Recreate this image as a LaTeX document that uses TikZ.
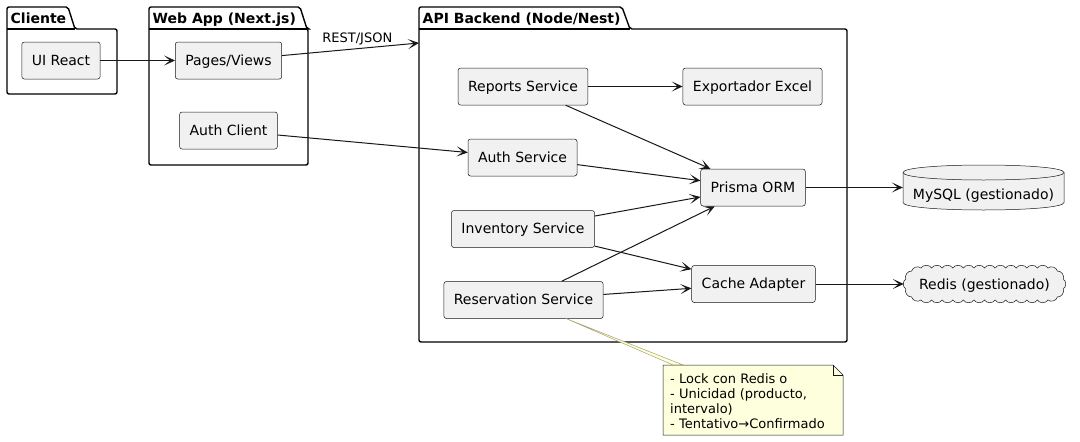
\documentclass[tikz,border=0pt]{standalone}
\usepackage{fontspec}
\setmainfont{DejaVu Sans}
\usetikzlibrary{arrows.meta,calc}
\definecolor{nodefill}{HTML}{F1F1F1}
\definecolor{linec}{HTML}{181818}
\definecolor{notefill}{HTML}{FEFFDD}
\definecolor{notelink}{HTML}{A8A070}
\newcommand\umlpkg[9]{%
  \draw[pkgline] (#1,7) -- (#6,7) -- (#7,29) -- (#2,29) -- (#2,#5) -- (#1,#5) -- cycle;
  \draw[pkgline] (#1,29) -- (#7,29);
  \node[pkgtitle] (#9) at (#1+3.5,23) {#8};
}
\begin{document}
\begin{tikzpicture}[x=1pt,y=-1pt,
  pkgline/.style={draw=black, line width=1.4pt, fill=white, rounded corners=2pt},
  pkgtitle/.style={anchor=base west, inner sep=0pt, font=\fontsize{14}{16}\selectfont\bfseries},
  comp/.style={draw=linec, fill=nodefill, line width=0.5pt, rounded corners=2.5pt,
    font=\fontsize{14}{16}\selectfont, inner xsep=10pt, inner ysep=0pt,
    minimum height=37pt, text height=11pt, text depth=2pt},
  txt/.style={inner sep=0pt, font=\fontsize{14}{16}\selectfont},
  arr/.style={draw=linec, line width=1pt, -{Stealth[length=11pt,width=10pt,inset=6pt]}},
  bump/.style={bend left=60},
  notetxt/.style={anchor=north west, inner sep=0pt, align=left,
    font=\fontsize{13}{15}\selectfont},
  lbl/.style={inner sep=0pt, font=\fontsize{13}{15}\selectfont}
]
\useasboundingbox (0,0) rectangle (1080,442);
\fill[white] (0,0) rectangle (1080,442);

% packages
\umlpkg{7}{117}{7}{29}{94}{68}{75}{Cliente}{tcli}
\umlpkg{149}{308}{7}{29}{165}{300}{307}{Web App (Next.js)}{tweb}
\umlpkg{419}{847}{7}{29}{342}{622}{630}{API Backend (Node/Nest)}{tapi}

% components
\node[comp] (ui) at (61,60.5) {UI React};
\node[comp] (pv) at (228.5,60.5) {Pages/Views};
\node[comp] (ac) at (228.5,130.5) {Auth Client};
\node[comp] (rs) at (523,86.5) {Reports Service};
\node[comp] (ex) at (752.5,86.5) {Exportador Excel};
\node[comp] (as) at (522.5,157.5) {Auth Service};
\node[comp] (pr) at (753,187.5) {Prisma ORM};
\node[comp] (is) at (523,229) {Inventory Service};
\node[comp] (ca) at (753.5,284) {Cache Adapter};
\node[comp] (rv) at (523.5,300) {Reservation Service};

% MySQL cylinder
\draw[draw=linec, fill=nodefill, line width=0.5pt]
  (903,172.5) -- (903,202.5) .. controls (903,212.5) and (1064,212.5) .. (1064,202.5)
  -- (1064,172.5) .. controls (1064,162.5) and (903,162.5) .. (903,172.5) -- cycle;
\draw[draw=linec, line width=0.5pt] (903,172.5) .. controls (903,182.5) and (1064,182.5) .. (1064,172.5);
\node[minimum width=161pt, minimum height=45pt, inner sep=0pt] (my) at (983.5,187.5) {};
\node[txt] (mytxt) at (983.5,196) {MySQL (gestionado)};

% Redis cloud
\draw[draw=linec, fill=nodefill, line width=0.5pt]
  (921,268)
  \foreach \k in {1,...,12} { to[bump] ({921+\k*10.5833},268) }
  \foreach \a in {-54,-18,18,54,90} { to[bump] ({1048+16*cos(\a)},{284+16*sin(\a)}) }
  \foreach \k in {1,...,12} { to[bump] ({1048-\k*10.5833},300) }
  \foreach \a in {126,162,198,234,270} { to[bump] ({921+16*cos(\a)},{284+16*sin(\a)}) }
  -- cycle;
\node[minimum width=161pt, minimum height=36pt, inner sep=0pt] (rd) at (984.5,284) {};
\node[txt] (rdtxt) at (984.5,286) {Redis (gestionado)};

% arrows
\coordinate (apiin) at (419,43);
\draw[arr] (ui) -- (pv);
\draw[arr] (pv) -- node[lbl, above=3pt, pos=0.55] (restlbl) {REST/JSON} (apiin);
\draw[arr] (ac) -- (as);
\draw[arr] (rs) -- (ex);
\draw[arr] (rs) -- (pr);
\draw[arr] (as) -- (pr);
\draw[arr] (is) -- (pr);
\draw[arr] (is) -- (ca);
\draw[arr] (rv) -- (pr);
\draw[arr] (rv) -- (ca);
\draw[arr] (pr) -- (my);
\draw[arr] (ca) -- (rd);

% note
\coordinate (nl) at (566,318.5);
\coordinate (nla) at (673,365);
\coordinate (nlb) at (683,365);
\draw[draw=notelink, fill=notefill, line width=0.5pt] (nl) -- (nla) -- (nlb) -- cycle;
\draw[draw=linec, fill=notefill, line width=0.5pt]
  (663,365) -- (833,365) -- (843,375) -- (843,435) -- (663,435) -- cycle;
\draw[draw=linec, line width=0.5pt] (833,365) -- (833,375) -- (843,375);
\node[notetxt] (note) at (670,373.5) {- Lock con Redis o\\- Unicidad (producto,\\intervalo)\\- Tentativo→Confirmado};
\end{tikzpicture}
\end{document}
